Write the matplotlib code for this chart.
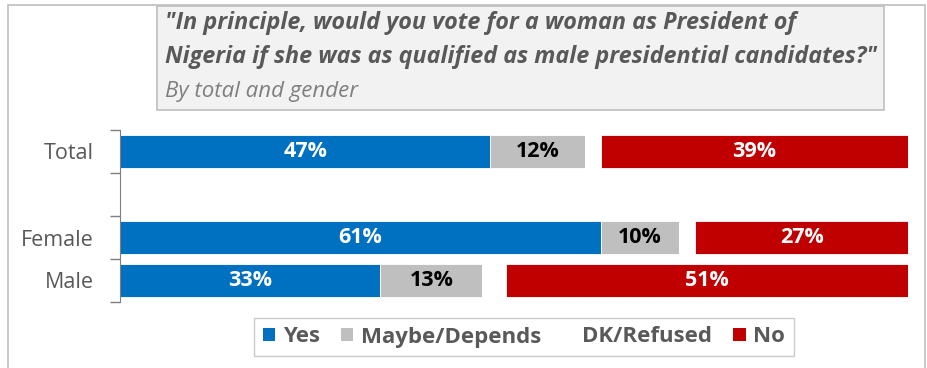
import numpy as np
import matplotlib.pyplot as plt
from matplotlib.patches import Rectangle, Patch

plt.rcParams['font.family'] = ['Open Sans', 'DejaVu Sans']

groups = ['Total', '', 'Female', 'Male']
yes = [47, np.nan, 61, 33]
maybe = [12, np.nan, 10, 13]
dk = [2, np.nan, 2, 3]
no = [39, np.nan, 27, 51]

series = [('Yes', yes, '#0070C0', 'white'),
          ('Maybe/Depends', maybe, '#BFBFBF', 'black'),
          ('DK/Refused', dk, 'white', None),
          ('No', no, '#C00000', 'white')]

fig = plt.figure(figsize=(9.28, 3.68), dpi=100)

# outer frame
fig.add_artist(Rectangle((8 / 928, -0.05), 917 / 928, 1.05 - 5 / 368, transform=fig.transFigure,
                         fill=False, edgecolor='#BFBFBF', linewidth=1.2))

# title box
fig.add_artist(Rectangle((157 / 928, 1 - 110 / 368), 727 / 928, 104 / 368, transform=fig.transFigure,
                         facecolor='#F2F2F2', edgecolor='#BFBFBF', linewidth=1.2))
title_lines = ['"In principle, would you vote for a woman as President of',
               'Nigeria if she was as qualified as male presidential candidates?"']
for yy, line in zip([23, 57], title_lines):
    fig.text(165 / 928, 1 - yy / 368, line, fontsize=16.8, fontweight='bold', style='italic',
             color='#595959', va='center', ha='left')
fig.text(165 / 928, 1 - 91 / 368, 'By total and gender', fontsize=16, style='italic',
         color='#7F7F7F', va='center', ha='left')

ax = fig.add_axes([120 / 928, 1 - 302 / 368, 788 / 928, 172 / 368])
ypos = np.arange(len(groups))[::-1]

left = np.zeros(len(groups))
for name, vals, color, tcolor in series:
    vals = np.array(vals, dtype=float)
    ax.barh(ypos, np.nan_to_num(vals), left=left, height=0.76, color=color,
            edgecolor='white', linewidth=0.6, label=name)
    if tcolor:
        for y, l, v in zip(ypos, left, vals):
            if not np.isnan(v):
                ax.text(l + v / 2, y, f'{v:.0f}%', ha='center', va='center',
                        color=tcolor, fontsize=15.5, fontweight='bold')
    left += np.nan_to_num(vals)

ax.set_xlim(0, 100)
ax.set_ylim(-0.5, len(groups) - 0.5)
ax.set_xticks([])
ax.set_yticks(np.arange(len(groups) + 1) - 0.5)
ax.set_yticklabels([])
ax.set_yticks(ypos, minor=True)
ax.set_yticklabels(groups, minor=True, fontsize=15.5, color='#595959')
ax.tick_params(axis='y', which='major', length=7, color='#7F7F7F', width=1)
ax.tick_params(axis='y', which='minor', length=0, pad=19)
for side in ['top', 'right', 'bottom']:
    ax.spines[side].set_visible(False)
ax.spines['left'].set_color('#7F7F7F')

handles = [Patch(facecolor=c, edgecolor='none') for _, _, c, _ in series]
leg = fig.legend(handles, [s[0] for s in series], loc='center',
                 bbox_to_anchor=(524 / 928, 1 - 337 / 368), ncol=4, frameon=True,
                 fancybox=False, edgecolor='#BFBFBF', handlelength=0.55, handleheight=0.55,
                 handletextpad=0.35, columnspacing=0.95, borderpad=0.4,
                 prop={'size': 16, 'weight': 'bold'})
for t in leg.get_texts():
    t.set_color('#595959')

fig.savefig('out.png', dpi=100)
